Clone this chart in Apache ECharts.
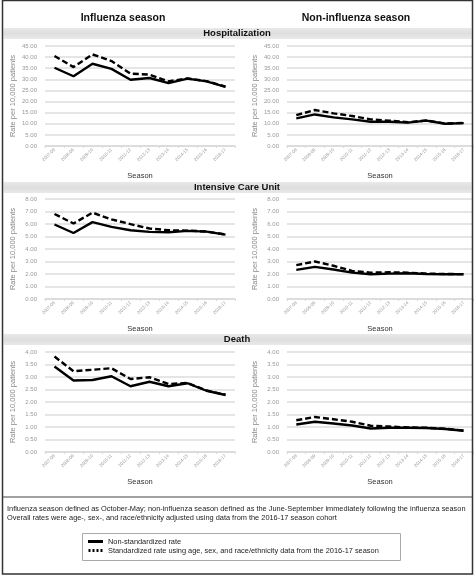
<!DOCTYPE html>
<html><head><meta charset="utf-8">
<script src="https://cdn.jsdelivr.net/npm/echarts@6/dist/echarts.min.js"></script>
<style>html,body{margin:0;padding:0;background:#fff}#c{width:475px;height:576px}</style>
</head><body><div id="c"></div>
<script>
const seasons = ['2007-08','2008-09','2009-10','2010-11','2011-12','2012-13','2013-14','2014-15','2015-16','2016-17'];
const yTicks = { hosp: [0, 45, 5], icu: [0, 8, 1], death: [0, 4, 0.5] };

const hospFluRaw = [35.2, 31.4, 37.0, 34.7, 29.8, 30.6, 28.3, 30.3, 29.1, 26.6];
const hospFluStd = [40.5, 35.5, 41.2, 38.2, 32.6, 32.1, 29.1, 30.4, 29.2, 26.7];
const hospNonRaw = [12.4, 14.2, 12.9, 12.0, 10.9, 10.9, 10.5, 11.4, 10.0, 10.3];
const hospNonStd = [13.9, 16.2, 14.7, 13.5, 12.0, 11.4, 10.7, 11.5, 10.1, 10.4];
const icuFluRaw = [5.96, 5.28, 6.15, 5.77, 5.50, 5.37, 5.34, 5.45, 5.39, 5.15];
const icuFluStd = [6.80, 6.04, 6.91, 6.37, 5.99, 5.64, 5.50, 5.47, 5.40, 5.16];
const icuNonRaw = [2.33, 2.57, 2.36, 2.11, 1.98, 2.03, 2.06, 2.00, 1.98, 1.98];
const icuNonStd = [2.71, 3.00, 2.66, 2.25, 2.11, 2.14, 2.11, 2.03, 2.00, 1.99];
const deathFluRaw = [3.42, 2.86, 2.88, 3.03, 2.63, 2.81, 2.63, 2.75, 2.45, 2.28];
const deathFluStd = [3.82, 3.23, 3.29, 3.35, 2.92, 2.99, 2.72, 2.76, 2.46, 2.29];
const deathNonRaw = [1.10, 1.21, 1.14, 1.06, 0.94, 0.97, 0.97, 0.96, 0.92, 0.85];
const deathNonStd = [1.27, 1.40, 1.31, 1.21, 1.05, 1.02, 0.98, 0.97, 0.93, 0.86];

const nameRaw = 'Non-standardized rate';
const nameStd = 'Standardized rate using age, sex, and race/ethnicity data from the 2016-17 season';
const colTitles = ['Influenza season', 'Non-influenza season'];
const rowTitles = ['Hospitalization', 'Intensive Care Unit', 'Death'];
const footnotes = ['Influenza season defined as October-May; non-influenza season defined as the June-September immediately following the influenza season',
  'Overall rates were age-, sex-, and race/ethnicity adjusted using data from the 2016-17 season cohort'];
const yName = 'Rate per 10,000 patients';
const xName = 'Season';

const FONT = '"Liberation Sans", Arial, sans-serif';
const rowTop = [46, 199, 352];
const plotH = 100;
const colLeft = [45, 287];
const colW = [190, 186];
const panels = [
  [hospFluRaw, hospFluStd, yTicks.hosp], [hospNonRaw, hospNonStd, yTicks.hosp],
  [icuFluRaw, icuFluStd, yTicks.icu], [icuNonRaw, icuNonStd, yTicks.icu],
  [deathFluRaw, deathFluStd, yTicks.death], [deathNonRaw, deathNonStd, yTicks.death]
];

const grid = [], xAxis = [], yAxis = [], series = [];
panels.forEach((p, i) => {
  const r = Math.floor(i / 2), c = i % 2;
  grid.push({ left: colLeft[c], top: rowTop[r], width: colW[c], height: plotH });
  xAxis.push({
    type: 'category', gridIndex: i, data: seasons, boundaryGap: true,
    name: xName, nameLocation: 'middle', nameGap: 26,
    nameTextStyle: { fontFamily: FONT, fontSize: 7.5, color: '#333' },
    axisLine: { lineStyle: { color: '#d9d9d9', width: 1.5 } },
    axisTick: { show: true, length: 2, lineStyle: { color: '#d9d9d9' } },
    axisLabel: { rotate: 45, fontSize: 4.5, color: '#999', fontFamily: FONT, margin: 3, interval: 0 }
  });
  yAxis.push({
    type: 'value', gridIndex: i, min: p[2][0], max: p[2][1], interval: p[2][2],
    name: yName, nameLocation: 'middle', nameGap: 28,
    nameTextStyle: { fontFamily: FONT, fontSize: 7.5, color: '#888' },
    axisLine: { show: false }, axisTick: { show: false },
    axisLabel: { fontSize: 6, color: '#999', fontFamily: FONT, margin: 8, formatter: v => v.toFixed(2) },
    splitLine: { lineStyle: { color: '#dcdcdc', width: 1.5 } }
  });
  series.push({ type: 'line', name: nameRaw, xAxisIndex: i, yAxisIndex: i, data: p[0], showSymbol: false, symbol: 'none',
    lineStyle: { color: '#000', width: 2.4 }, itemStyle: { color: '#000' }, z: 3 });
  series.push({ type: 'line', name: nameStd, xAxisIndex: i, yAxisIndex: i, data: p[1], showSymbol: false, symbol: 'none',
    lineStyle: { color: '#000', width: 2.4, type: [6, 3] }, itemStyle: { color: '#000' }, z: 2 });
});

const headerY = [28, 182, 334];
const graphic = [
  { type: 'rect', shape: { x: 2.5, y: 0.5, width: 470, height: 573.5 }, style: { fill: 'none', stroke: '#333', lineWidth: 1.5 }, z: 10 },
  { type: 'line', shape: { x1: 2.5, y1: 497, x2: 472.5, y2: 497 }, style: { stroke: '#444', lineWidth: 1.2 }, z: 10 },
  { type: 'rect', shape: { x: 82.5, y: 533.5, width: 318, height: 27 }, style: { fill: 'none', stroke: '#aaa', lineWidth: 1 }, z: 10 },
  { type: 'text', x: 123, y: 18, style: { text: colTitles[0], font: 'bold 10.5px ' + FONT, fill: '#111', textAlign: 'center', textVerticalAlign: 'middle' } },
  { type: 'text', x: 356, y: 18, style: { text: colTitles[1], font: 'bold 10.5px ' + FONT, fill: '#111', textAlign: 'center', textVerticalAlign: 'middle' } },
  { type: 'text', x: 7, y: 509, style: { text: footnotes[0], font: '7.4px ' + FONT, fill: '#222', textVerticalAlign: 'middle' } },
  { type: 'text', x: 7, y: 518, style: { text: footnotes[1], font: '7.4px ' + FONT, fill: '#222', textVerticalAlign: 'middle' } }
];
headerY.forEach((y, i) => {
  graphic.push({ type: 'rect', shape: { x: 3.5, y: y, width: 468, height: 11 },
    style: { fill: { type: 'linear', x: 0, y: 0, x2: 0, y2: 1, colorStops: [{ offset: 0, color: '#e9e9e9' }, { offset: 0.5, color: '#dedede' }, { offset: 1, color: '#e9e9e9' }] } }, z: -1 });
  graphic.push({ type: 'text', x: 237, y: y + 5.5, style: { text: rowTitles[i], font: 'bold 9.5px ' + FONT, fill: '#111', textAlign: 'center', textVerticalAlign: 'middle' } });
});

const chart = echarts.init(document.getElementById('c'), null, { renderer: 'canvas' });
chart.setOption({
  animation: false,
  backgroundColor: '#fff',
  grid, xAxis, yAxis, series, graphic,
  legend: {
    data: [
      { name: nameRaw, icon: 'path://M0,0h15v3h-15z' },
      { name: nameStd, icon: 'path://M0,0h2v3h-2z M4,0h2v3h-2z M8,0h2v3h-2z M12,0h2v3h-2z' }
    ],
    orient: 'vertical', left: 84, top: 536,
    padding: [2, 4, 2, 4], itemGap: 2, itemWidth: 15, itemHeight: 3,
    itemStyle: { color: '#000' },
    textStyle: { fontFamily: FONT, fontSize: 7.4, color: '#222', padding: [0, 0, 0, 0], lineHeight: 7 },
    selectedMode: false
  }
});
</script></body></html>
